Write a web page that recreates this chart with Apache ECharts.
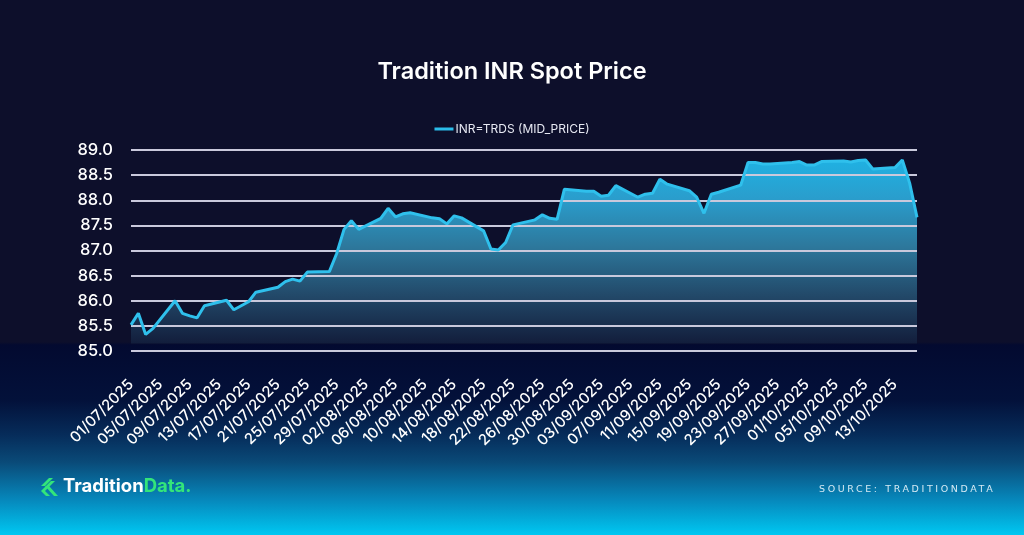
<!DOCTYPE html>
<html>
<head>
<meta charset="utf-8">
<script src="https://cdn.jsdelivr.net/npm/echarts@6/dist/echarts.min.js"></script>
<style>
html,body{margin:0;padding:0;width:1024px;height:535px;overflow:hidden;}
#wrap{position:relative;width:1024px;height:535px;}
#chart{width:1024px;height:535px;background:linear-gradient(to bottom,#0d0f2b 0px,#0d0f2b 342px,#030a30 345px,#03113a 400px,#062c5a 435px,#0a4a78 462px,#0688bc 500px,#00c8f2 535px);}
#source{position:absolute;left:819px;top:483px;font-family:'DejaVu Sans',sans-serif;font-size:9.5px;letter-spacing:2.6px;color:#d6eaf4;white-space:nowrap;}
</style>
</head>
<body>
<div id="wrap">
<div id="chart"></div>
<div id="source">SOURCE: TRADITIONDATA</div>
</div>
<script>
const title = 'Tradition INR Spot Price';
const seriesName = 'INR=TRDS (MID_PRICE)';
const startDate = [2025, 7, 1];
const dayCount = 108;
const yTicks = [85.0, 85.5, 86.0, 86.5, 87.0, 87.5, 88.0, 88.5, 89.0];
// daily values, null on weekends (line connects over them)
const midPrice = [
  85.52, 85.75, 85.33, 85.45, null, null, 86.00, 85.75, 85.70, 85.66,
  85.90, null, null, 86.01, 85.82, 85.90, 85.98, 86.17, null, null,
  86.27, 86.38, 86.43, 86.39, 86.57, null, null, 86.58, 86.94, 87.42,
  87.59, 87.42, null, null, 87.64, 87.84, 87.67, 87.73, 87.75, null,
  null, 87.65, 87.63, 87.53, 87.69, 87.65, null, null, 87.39, 87.03,
  87.01, 87.16, 87.51, null, null, 87.61, 87.71, 87.64, 87.62, 88.22,
  null, null, 88.18, 88.18, 88.08, 88.10, 88.29, null, null, 88.06,
  88.12, 88.14, 88.42, 88.32, null, null, 88.19, 88.06, 87.74, 88.12,
  88.16, null, null, 88.30, 88.75, 88.75, 88.72, 88.72, null, null,
  88.75, 88.77, 88.70, 88.70, 88.77, null, null, 88.78, 88.76, 88.79,
  88.80, 88.62, null, null, 88.65, 88.80, 88.34, 87.66
];
const categories = [];
for (let i = 0; i < dayCount; i++) {
  const d = new Date(startDate[0], startDate[1] - 1, startDate[2] + i);
  const dd = String(d.getDate()).padStart(2, '0');
  const mm = String(d.getMonth() + 1).padStart(2, '0');
  categories.push(dd + '/' + mm + '/' + d.getFullYear());
}

const chart = echarts.init(document.getElementById('chart'), null, {renderer: 'canvas'});
const FONT = 'Inter';
const GREEN = '#33e57a';
chart.setOption({
  backgroundColor: 'transparent',
  animation: false,
  title: {
    text: title, left: 'center', top: 60, padding: 0,
    textStyle: {color: '#ffffff', fontSize: 23.5, fontWeight: 600, fontFamily: FONT}
  },
  legend: {
    top: 118, left: 'center', icon: 'rect', itemWidth: 19, itemHeight: 3, itemGap: 10,
    textStyle: {color: '#e6e8f2', fontSize: 12, fontFamily: FONT, padding: [0, 0, 0, -3]},
    data: [seriesName]
  },
  grid: {left: 131, right: 107, top: 150, bottom: 184, containLabel: false},
  xAxis: {
    type: 'category', data: categories, boundaryGap: false,
    axisLine: {show: false}, axisTick: {show: false},
    axisLabel: {interval: 3, rotate: 45, margin: 31, color: '#ffffff', fontSize: 15, fontWeight: 500, fontFamily: FONT},
    splitLine: {show: false}
  },
  yAxis: {
    type: 'value', min: yTicks[0], max: yTicks[yTicks.length - 1], interval: 0.5, z: 2,
    axisLine: {show: false}, axisTick: {show: false},
    axisLabel: {margin: 18, color: '#ffffff', fontSize: 16.5, fontWeight: 500, fontFamily: FONT,
      formatter: v => v.toFixed(1)},
    splitLine: {lineStyle: {color: '#c9c9dc', width: 2}}
  },
  series: [{
    name: seriesName, type: 'line', data: midPrice, connectNulls: true,
    showSymbol: false, symbol: 'none', z: 1,
    lineStyle: {width: 0},
    itemStyle: {color: '#2bbdea'},
    areaStyle: {
      origin: 85.15, opacity: 1,
      color: {type: 'linear', x: 0, y: 150, x2: 0, y2: 345, global: true, colorStops: [
        {offset: 0, color: '#1db6e8'},
        {offset: 0.25, color: '#2a9dcc'},
        {offset: 0.5, color: '#2d779b'},
        {offset: 0.75, color: '#224868'},
        {offset: 1, color: '#121c3a'}
      ]}
    }
  }, {
    name: seriesName, type: 'line', data: midPrice, connectNulls: true,
    showSymbol: false, symbol: 'none', z: 3,
    lineStyle: {color: '#2fc0ec', width: 3},
    itemStyle: {color: '#2fc0ec'}
  }],
  graphic: [
    {type: 'polygon', shape: {points: [[41,486],[49,478],[53,478],[45,486]]}, style: {fill: GREEN}},
    {type: 'polygon', shape: {points: [[41,491],[51,481],[55,481],[45,491]]}, style: {fill: GREEN}},
    {type: 'polygon', shape: {points: [[45,486],[49,486],[58,496],[54,496]]}, style: {fill: GREEN}},
    {type: 'polygon', shape: {points: [[41,491],[45,491],[50,496],[46,496]]}, style: {fill: GREEN}},
    {type: 'text', left: 63, top: 477, style: {
      text: '{a|Tradition}{b|Data.}',
      rich: {
        a: {fill: '#ffffff', fontSize: 18.5, fontWeight: 700, fontFamily: FONT},
        b: {fill: GREEN, fontSize: 18.5, fontWeight: 700, fontFamily: FONT}
      }
    }}
  ]
});
</script>
</body>
</html>
